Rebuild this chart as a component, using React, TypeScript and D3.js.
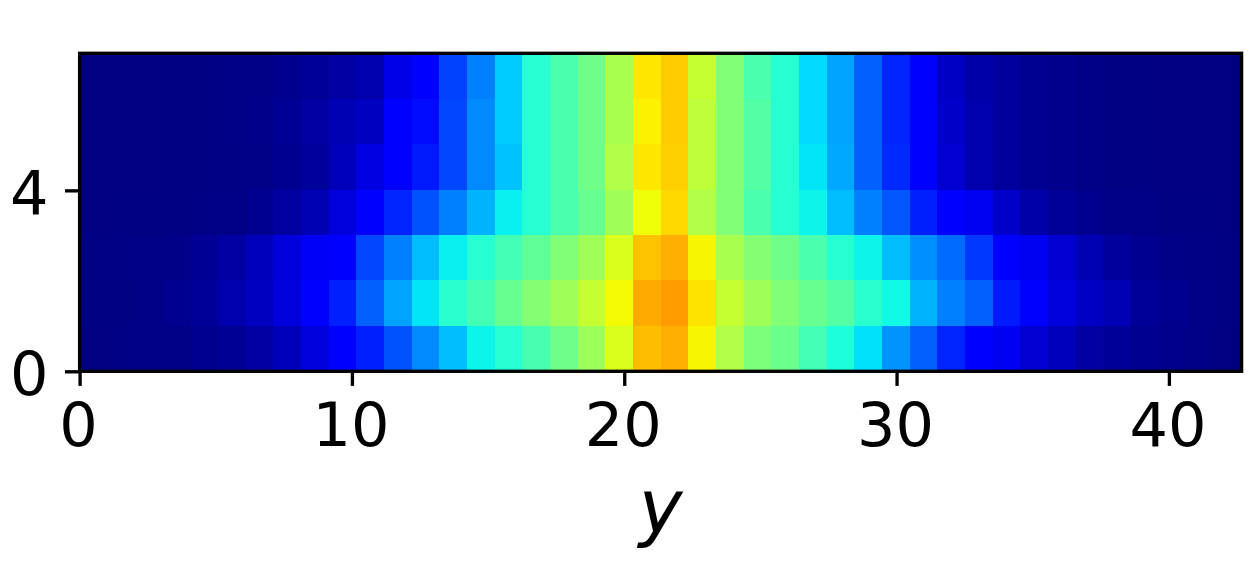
import React, { useEffect, useRef } from "react";
import * as d3 from "d3";

const xTicks = [0, 10, 20, 30, 40];
const yTicks = [0, 4];
const xLabel = "y";
const xMax = 42.67;
const yMax = 7.03;

// rows listed from top of the picture to the bottom, 42 columns each
const row6 = [.001,.001,.001,.002,.003,.005,.008,.012,.02,.03,.04,.09,.115,.19,.25,.325,.395,.44,.485,.555,.665,.695,.59,.505,.44,.395,.34,.285,.22,.16,.12,.06,.035,.025,.015,.01,.006,.003,.002,.001,.001,.001];
const row5 = [.001,.001,.001,.002,.003,.005,.009,.018,.03,.045,.055,.11,.135,.195,.26,.325,.395,.44,.485,.555,.655,.695,.58,.505,.45,.395,.34,.285,.22,.16,.12,.065,.04,.025,.015,.01,.006,.003,.002,.001,.001,.001];
const row4 = [.001,.001,.001,.002,.003,.004,.007,.014,.025,.05,.085,.115,.15,.195,.26,.315,.395,.44,.485,.565,.665,.69,.58,.505,.45,.395,.35,.29,.22,.165,.12,.07,.04,.025,.015,.01,.006,.003,.002,.001,.001,.001];
const row3 = [.001,.002,.003,.003,.004,.006,.012,.028,.045,.08,.11,.16,.205,.25,.30,.36,.395,.44,.475,.545,.64,.68,.565,.505,.44,.395,.365,.31,.25,.21,.155,.12,.10,.065,.035,.02,.012,.008,.005,.003,.002,.001];
const row2 = [.002,.004,.006,.008,.018,.03,.05,.08,.105,.125,.195,.25,.31,.36,.395,.43,.465,.505,.545,.615,.705,.725,.65,.555,.51,.485,.44,.395,.365,.31,.265,.23,.18,.12,.10,.07,.045,.025,.014,.008,.004,.003];
const row1 = [.002,.003,.005,.012,.022,.04,.055,.08,.115,.155,.22,.285,.35,.40,.43,.475,.51,.545,.59,.645,.73,.745,.67,.59,.545,.505,.475,.45,.40,.37,.30,.25,.22,.15,.115,.08,.06,.045,.022,.012,.008,.003];
const row0 = [.001,.004,.005,.006,.012,.018,.03,.05,.08,.115,.155,.205,.26,.31,.365,.395,.435,.485,.54,.615,.71,.725,.65,.565,.50,.48,.43,.385,.345,.27,.22,.16,.115,.10,.07,.05,.03,.02,.012,.01,.005,.001];
const rows = [row6, row5, row4, row3, row2, row1, row0];

const jetR = d3.scaleLinear<number>().domain([0, 0.35, 0.66, 0.89, 1]).range([0, 0, 255, 255, 128]).clamp(true);
const jetG = d3.scaleLinear<number>().domain([0, 0.125, 0.375, 0.64, 0.91, 1]).range([0, 0, 255, 255, 0, 0]).clamp(true);
const jetB = d3.scaleLinear<number>().domain([0, 0.11, 0.34, 0.65, 1]).range([128, 255, 255, 0, 0]).clamp(true);
const jet = (v: number) => d3.rgb(jetR(v), jetG(v), jetB(v)).formatHex();

const W = 1250, H = 580;
const left = 79.6, right = 1241.6, top = 53.3, bottom = 371.3;
const FONT = "'DejaVu Sans'";

export default function App() {
  const ref = useRef<SVGSVGElement>(null);
  useEffect(() => {
    const svg = d3.select(ref.current!);
    svg.selectAll("*").remove();
    const x = d3.scaleLinear().domain([0, xMax]).range([left, right]);
    const y = d3.scaleLinear().domain([0, yMax]).range([bottom, top]);
    const cols = d3.scaleBand<number>().domain(d3.range(rows[0].length)).range([left, right]);
    const rws = d3.scaleBand<number>().domain(d3.range(rows.length)).range([top, bottom]);

    const g = svg.append("g").attr("shape-rendering", "crispEdges");
    rows.forEach((row, r) => {
      row.forEach((v, c) => {
        const x0 = Math.round(cols(c)!), x1 = Math.round(cols(c)! + cols.bandwidth());
        const y0 = Math.round(rws(r)!), y1 = Math.round(rws(r)! + rws.bandwidth());
        g.append("rect").attr("x", x0).attr("y", y0).attr("width", x1 - x0).attr("height", y1 - y0).attr("fill", jet(v));
      });
    });

    const style = (a: d3.Selection<SVGGElement, unknown, null, undefined>) => {
      a.select(".domain").remove();
      a.selectAll("line").attr("stroke", "#000").attr("stroke-width", 3.33);
      a.selectAll("text").attr("font-family", FONT).attr("font-size", 60.5).attr("fill", "#000");
    };
    const ax = svg.append("g").attr("transform", `translate(0,${bottom})`)
      .call(d3.axisBottom(x).tickValues(xTicks).tickFormat(d3.format("d")).tickSize(14.6).tickPadding(14.6) as any);
    style(ax as any);
    ax.selectAll("text").attr("dy", "0.76em");
    ax.selectAll("text").attr("dx", "-1.5");
    const ay = svg.append("g").attr("transform", `translate(${left},0)`)
      .call(d3.axisLeft(y).tickValues(yTicks).tickFormat(d3.format("d")).tickSize(14.6).tickPadding(14.6) as any);
    style(ay as any);
    ay.selectAll("text").attr("dy", "0.39em");
    ay.selectAll("text").attr("dx", "-2");

    svg.append("rect").attr("x", left).attr("y", top).attr("width", right - left).attr("height", bottom - top)
      .attr("fill", "none").attr("stroke", "#000").attr("stroke-width", 3.33);

    svg.append("text").attr("x", (left + right) / 2).attr("y", 533).attr("text-anchor", "middle")
      .attr("font-family", FONT).attr("font-style", "italic").attr("font-size", 74).attr("fill", "#000").text(xLabel);
  }, []);
  return <svg ref={ref} width={W} height={H} style={{ position: "absolute", left: 0, top: 0, background: "#fff" }} />;
}
